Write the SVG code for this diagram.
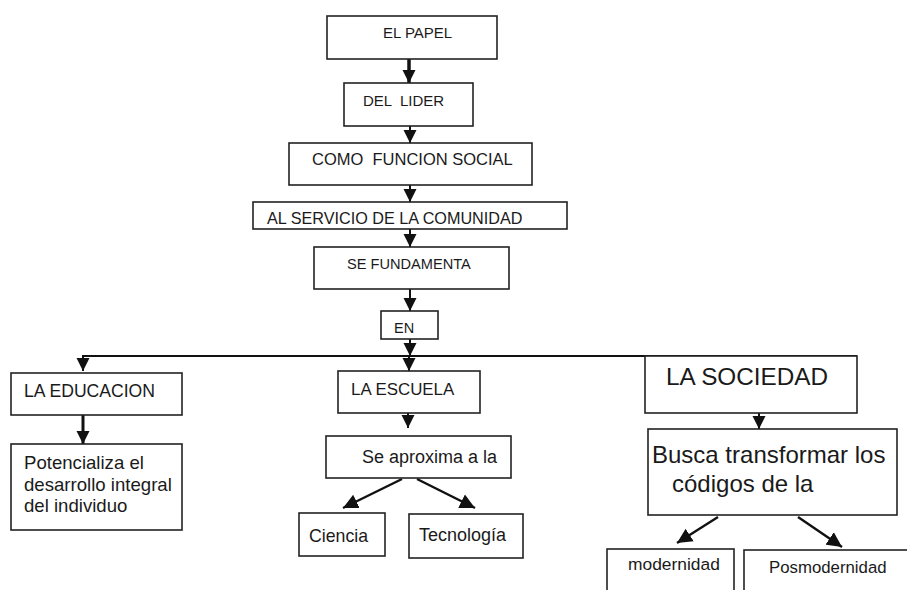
<svg xmlns="http://www.w3.org/2000/svg" width="907" height="590" viewBox="0 0 907 590">
<defs>
<marker id="ah" markerUnits="userSpaceOnUse" markerWidth="14" markerHeight="14" refX="13" refY="7" orient="auto">
<path d="M0,0.5 L13,7 L0,13.5 z" fill="#111"/>
</marker>
<marker id="ahb" markerUnits="userSpaceOnUse" markerWidth="16" markerHeight="16" refX="15" refY="8" orient="auto">
<path d="M0,0.5 L15,8 L0,15.5 z" fill="#111"/>
</marker>
<style>
.box{fill:#fff;stroke:#222;stroke-width:1.6}
.t{font-family:"Liberation Sans",Arial,sans-serif;fill:#1a1a1a;white-space:pre}
.c{stroke:#111;stroke-width:2;fill:none}
.cd{stroke:#111;stroke-width:2.4;fill:none}
</style>
</defs>
<rect width="907" height="590" fill="#fff"/>
<g id="connectors">
<line class="c" x1="409" y1="59" x2="409" y2="83" marker-end="url(#ah)" style="stroke-width:3.5"/>
<line class="c" x1="410" y1="126" x2="410" y2="143" marker-end="url(#ah)"/>
<line class="c" x1="410" y1="185" x2="410" y2="202" marker-end="url(#ah)"/>
<line class="c" x1="410" y1="229" x2="410" y2="247" marker-end="url(#ah)"/>
<line class="c" x1="410" y1="289" x2="410" y2="311" marker-end="url(#ah)"/>
<line class="c" x1="410" y1="339" x2="410" y2="356" marker-end="url(#ah)"/>
<line class="c" x1="82" y1="356" x2="857" y2="356"/>
<line class="c" x1="83" y1="356" x2="83" y2="371" marker-end="url(#ah)"/>
<line class="c" x1="409" y1="356" x2="409" y2="371" marker-end="url(#ah)"/>
<line class="c" x1="83" y1="415" x2="83" y2="444" marker-end="url(#ah)" style="stroke-width:3"/>
<line class="c" x1="408" y1="413" x2="408" y2="428" marker-end="url(#ah)"/>
<line class="cd" x1="402" y1="479" x2="343" y2="508" marker-end="url(#ahb)"/>
<line class="cd" x1="417" y1="479" x2="475" y2="508" marker-end="url(#ahb)"/>
<line class="c" x1="759" y1="413" x2="759" y2="429" marker-end="url(#ah)"/>
<line class="cd" x1="718" y1="517" x2="677" y2="543" marker-end="url(#ahb)"/>
<line class="cd" x1="798" y1="517" x2="842" y2="547" marker-end="url(#ahb)"/>
</g>
<g id="el-papel">
<rect class="box" x="327" y="16" width="170" height="43"/>
<text class="t" x="383" y="38" font-size="15">EL PAPEL</text>
</g>
<g id="del-lider">
<rect class="box" x="344" y="83" width="129" height="43"/>
<text class="t" x="363" y="106" font-size="15">DEL  LIDER</text>
</g>
<g id="como-funcion-social">
<rect class="box" x="289" y="143" width="243" height="42"/>
<text class="t" x="312" y="165" font-size="16.5">COMO  FUNCION SOCIAL</text>
</g>
<g id="al-servicio">
<rect class="box" x="253" y="202" width="314" height="27"/>
<text class="t" x="267" y="224" font-size="16.2">AL SERVICIO DE LA COMUNIDAD</text>
</g>
<g id="se-fundamenta">
<rect class="box" x="314" y="247" width="195" height="42"/>
<text class="t" x="347" y="269" font-size="14.6">SE FUNDAMENTA</text>
</g>
<g id="en">
<rect class="box" x="381" y="311" width="57" height="28"/>
<text class="t" x="394" y="333" font-size="14.5">EN</text>
</g>
<g id="la-educacion">
<rect class="box" x="11" y="373" width="171" height="42"/>
<text class="t" x="24" y="397" font-size="17.6">LA EDUCACION</text>
</g>
<g id="potencializa">
<rect class="box" x="11" y="444" width="171" height="86"/>
<text class="t" font-size="18.6"><tspan x="24" y="469">Potencializa el</tspan><tspan x="24" y="491">desarrollo integral</tspan><tspan x="24" y="512">del individuo</tspan></text>
</g>
<g id="la-escuela">
<rect class="box" x="338" y="371" width="142" height="42"/>
<text class="t" x="351" y="395" font-size="16.9">LA ESCUELA</text>
</g>
<g id="se-aproxima">
<rect class="box" x="326" y="436" width="185" height="42"/>
<text class="t" x="362" y="463" font-size="18">Se aproxima a la</text>
</g>
<g id="ciencia">
<rect class="box" x="299" y="513" width="86" height="43"/>
<text class="t" x="309" y="542" font-size="17.7">Ciencia</text>
</g>
<g id="tecnologia">
<rect class="box" x="409" y="514" width="114" height="44"/>
<text class="t" x="419" y="541" font-size="18">Tecnología</text>
</g>
<g id="la-sociedad">
<rect class="box" x="645" y="356" width="212" height="57"/>
<text class="t" x="666" y="385" font-size="24.3">LA SOCIEDAD</text>
</g>
<g id="busca">
<rect class="box" x="648" y="429" width="249" height="86"/>
<text class="t" font-size="24"><tspan x="652" y="463">Busca transformar los</tspan><tspan x="672" y="492">códigos de la</tspan></text>
</g>
<g id="modernidad">
<rect class="box" x="607" y="549" width="127" height="50"/>
<text class="t" x="628" y="570" font-size="17.4">modernidad</text>
</g>
<g id="posmodernidad">
<rect class="box" x="744" y="550" width="170" height="50"/>
<text class="t" x="769" y="573" font-size="16.8">Posmodernidad</text>
</g>
</svg>
